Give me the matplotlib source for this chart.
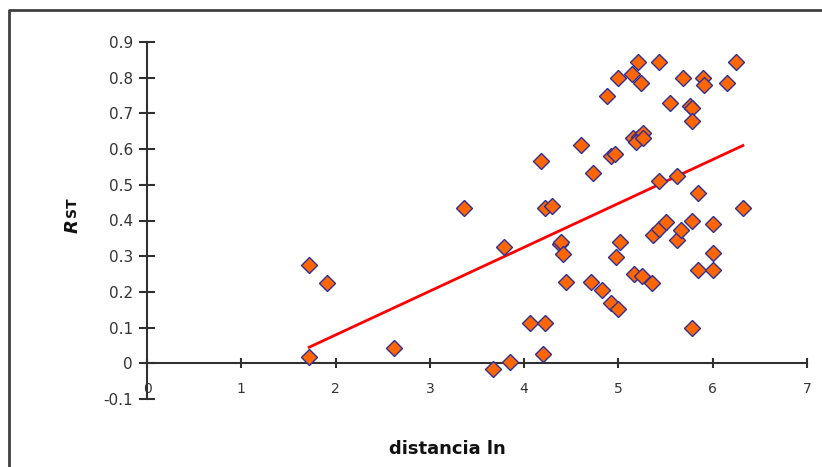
import matplotlib
matplotlib.use("Agg")
import matplotlib.pyplot as plt
from matplotlib.lines import Line2D

W, H = 822, 467

# ln(distance) vs R_ST
dist_ln = [
    1.72, 1.91, 1.72, 2.62, 3.36, 3.79, 3.67, 3.85, 4.06, 4.22,
    4.20, 4.18, 4.22, 4.30, 4.38, 4.39, 4.41, 4.44, 4.60, 4.73,
    4.71, 4.83, 4.88, 4.92, 4.96, 4.92, 4.97, 5.00, 5.00, 5.02,
    5.14, 5.21, 5.24, 5.15, 5.22, 5.26, 5.19, 5.26, 5.16, 5.25,
    5.36, 5.37, 5.43, 5.43, 5.43, 5.50, 5.55, 5.62, 5.68, 5.62,
    5.66, 5.76, 5.78, 5.78, 5.78, 5.84, 5.84, 5.78, 5.90, 5.91,
    6.00, 6.00, 6.00, 6.15, 6.25, 6.32,
]
rst = [
    0.275, 0.225, 0.018, 0.043, 0.435, 0.325, -0.015, 0.004, 0.113, 0.113,
    0.025, 0.568, 0.435, 0.440, 0.335, 0.340, 0.305, 0.227, 0.612, 0.533,
    0.227, 0.205, 0.750, 0.580, 0.585, 0.168, 0.297, 0.153, 0.800, 0.340,
    0.810, 0.845, 0.785, 0.630, 0.635, 0.645, 0.620, 0.630, 0.250, 0.245,
    0.225, 0.360, 0.375, 0.845, 0.510, 0.395, 0.730, 0.525, 0.800, 0.345,
    0.373, 0.720, 0.715, 0.680, 0.400, 0.478, 0.260, 0.100, 0.800, 0.780,
    0.310, 0.390, 0.262, 0.785, 0.845, 0.435,
]
# linear trend line endpoints as drawn in the chart
trend_x = [1.72, 6.32]
trend_y = [0.045, 0.61]

x_ticks = [0, 1, 2, 3, 4, 5, 6, 7]
y_ticks = [-0.1, 0, 0.1, 0.2, 0.3, 0.4, 0.5, 0.6, 0.7, 0.8, 0.9]
y_tick_labels = ["-0.1", "0", "0.1", "0.2", "0.3", "0.4", "0.5", "0.6", "0.7", "0.8", "0.9"]

plt.rcParams["font.family"] = ["DejaVu Sans"]
TXT = "#333333"

fig = plt.figure(figsize=(W / 100, H / 100), dpi=100)
ax = fig.add_axes([147 / W, 1 - 399 / H, 660 / W, 357 / H])

ax.plot(trend_x, trend_y, color="#ff0000", linewidth=2, zorder=2)
ax.plot(dist_ln, rst, linestyle="none", marker="D", markersize=8.5,
        markerfacecolor="#ff6600", markeredgecolor="#2e2e99",
        markeredgewidth=1.0, zorder=3)

ax.set_xlim(0, 7)
ax.set_ylim(-0.1, 0.9)
for side in ("top", "right"):
    ax.spines[side].set_visible(False)
ax.spines["bottom"].set_position(("data", 0))
for side in ("left", "bottom"):
    ax.spines[side].set_color("#303030")
    ax.spines[side].set_linewidth(1.5)

ax.set_xticks(x_ticks)
ax.set_yticks(y_ticks)
ax.set_yticklabels(y_tick_labels)
ax.tick_params(axis="y", direction="inout", length=12, width=1.5,
               color="#303030", labelsize=11, labelcolor=TXT, pad=4)
ax.tick_params(axis="x", direction="inout", length=7, width=1.5,
               color="#303030", labelsize=10, labelcolor=TXT, pad=10)

fig.text(447 / W, 1 - 449 / H, "distancia ln", ha="center", va="center",
         fontsize=13, fontweight="bold", color="#111111")
fig.text(73 / W, 1 - 226 / H, "R", rotation=90, ha="center", va="center",
         fontsize=13, fontweight="bold", fontstyle="italic", color="#111111")
fig.text(72 / W, 1 - 207 / H, "ST", rotation=90, ha="center", va="center",
         fontsize=10, fontweight="bold", color="#111111")

# outer chart frame (runs off the right and bottom edges)
fx, fy = 9 / W, 1 - 10 / H
fig.lines.append(Line2D([fx, fx, 1.05], [-0.05, fy, fy], transform=fig.transFigure,
                        color="#404040", linewidth=2))

fig.savefig("out.png", dpi=100)
